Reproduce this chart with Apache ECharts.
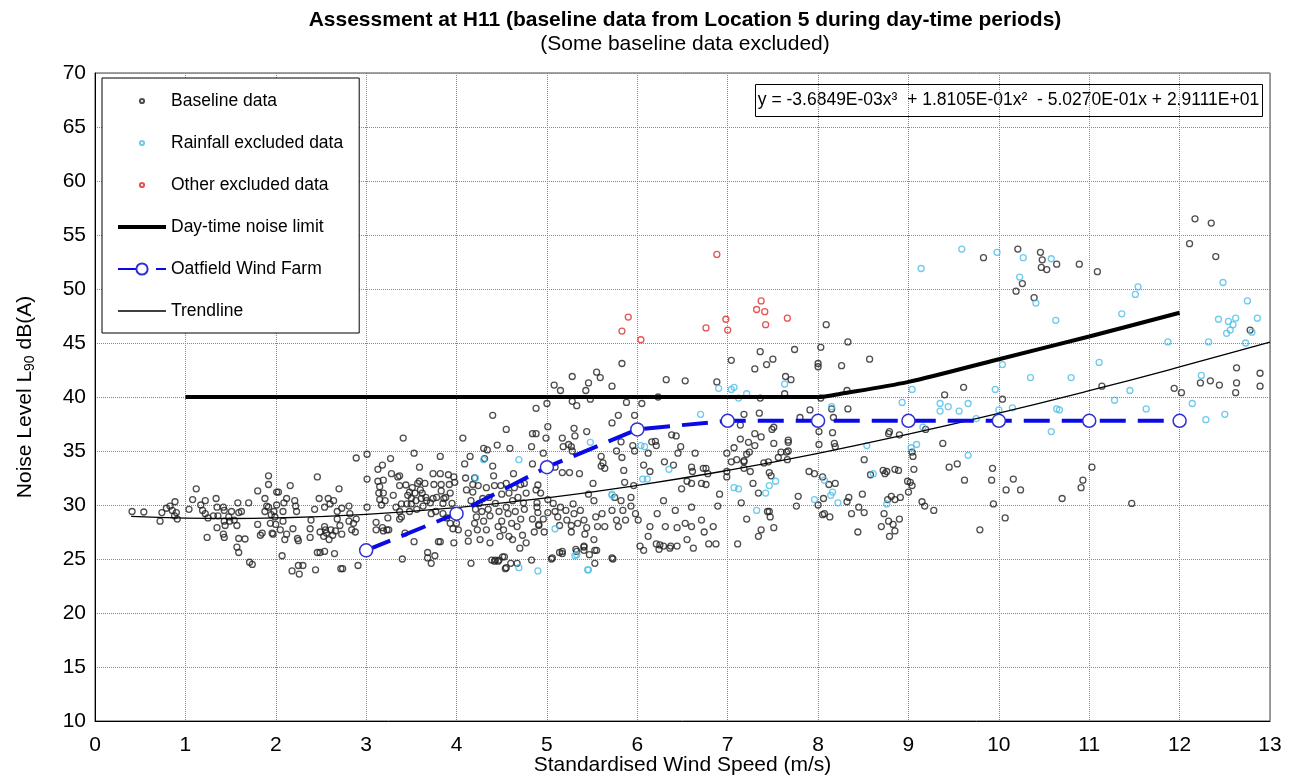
<!DOCTYPE html>
<html>
<head>
<meta charset="utf-8">
<script src="https://cdn.jsdelivr.net/npm/echarts@6/dist/echarts.min.js"></script>
<style>
  html, body { margin: 0; padding: 0; background: #fff; }
  #chart { width: 1295px; height: 780px; }
</style>
</head>
<body>
<div id="chart"></div>
<script>
// baseline points [wind speed m/s, LA90 dB]
const baselineData = [
  [0.41,29.4],[0.54,29.35],[0.72,28.5],[0.74,29.3],[0.79,29.7],[0.83,29.9],[0.885,30.3],[0.855,29.5],[0.9,29.3],[0.88,29.0],[0.91,28.7],
  [1.04,29.6],[1.08,30.5],[1.12,31.5],[1.17,30.0],[1.19,29.5],[1.22,30.4],[1.22,29.2],[1.25,28.8],[1.24,27.0],[1.31,29.0],[1.34,30.6],
  [1.35,29.8],[1.35,27.9],[1.36,29.0],[1.42,29.8],[1.43,29.5],[1.43,28.5],[1.42,27.3],[1.43,27.0],[1.44,28.1],[1.48,28.9],[1.49,28.5],
  [1.51,29.4],[1.54,28.6],[1.57,28.1],[1.58,30.2],[1.59,29.3],[1.57,26.1],[1.59,25.6],[1.59,26.9],[1.62,29.4],[1.66,26.85],[1.70,30.2],
  [1.71,24.7],[1.74,24.5],[1.80,31.3],[1.80,28.2],[1.83,27.2],[1.85,27.4],[1.88,30.6],[1.88,29.4],[1.90,29.9],[1.92,32.7],[1.92,31.9],
  [1.92,29.8],[1.94,28.3],[1.95,29.1],[1.96,27.4],[1.97,27.3],[1.98,29.4],[1.99,28.9],[2.01,31.2],[2.01,30.0],[2.0,28.2],[2.03,31.2],
  [2.05,27.7],[2.07,25.3],[2.08,29.4],[2.08,28.5],[2.09,30.2],[2.10,26.8],[2.12,30.6],[2.12,27.3],[2.16,31.8],[2.18,23.9],[2.19,27.8],
  [2.21,30.4],[2.22,29.9],[2.23,29.4],[2.24,26.9],[2.25,26.7],[2.26,23.6],[2.25,24.4],[2.30,24.4],[2.38,27.8],[2.38,27.0],[2.39,28.6],
  [2.43,29.6],[2.44,24.0],[2.46,32.6],[2.46,25.6],[2.48,30.6],[2.49,25.6],[2.49,27.5],[2.53,27.1],[2.54,25.7],[2.54,29.8],[2.54,28.0],
  [2.55,27.7],[2.56,27.4],[2.58,30.6],[2.59,26.8],[2.60,30.1],[2.61,27.7],[2.64,30.4],[2.63,27.2],[2.65,25.5],[2.66,27.6],[2.68,28.7],
  [2.68,29.4],[2.70,31.5],[2.71,28.1],[2.72,24.1],[2.73,29.7],[2.73,27.3],
  [2.89,34.35],[3.01,34.7],[2.81,29.9],[2.82,29.2],[2.81,28.5],[2.84,27.7],[2.89,28.7],[2.88,27.5],[2.86,28.3],[2.91,24.4],[2.74,24.1],
  [3.01,32.4],[3.01,29.8],[3.11,28.4],[3.11,27.7],[3.13,33.3],[3.13,32.2],[3.15,31.7],[3.14,31.1],[3.15,30.5],[3.17,30.0],[3.18,33.7],
  [3.19,32.3],[3.19,31.1],[3.21,30.4],[3.18,27.9],[3.19,27.6],[3.23,27.7],[3.25,27.7],[3.24,28.8],[3.27,34.3],[3.28,32.9],[3.30,30.9],
  [3.33,29.8],[3.35,32.6],[3.37,32.7],[3.37,31.8],[3.39,30.1],[3.37,29.4],[3.39,28.9],[3.37,28.7],[3.41,36.2],[3.40,25.0],[3.43,27.4],
  [3.44,31.85],[3.45,30.1],[3.46,30.9],[3.48,31.2],[3.48,29.4],[3.50,30.1],[3.50,30.6],[3.51,31.6],[3.53,34.8],[3.53,26.6],[3.54,31.1],
  [3.55,30.4],[3.56,29.6],[3.57,32.0],[3.59,33.5],[3.59,32.2],[3.60,31.4],[3.61,30.6],[3.62,31.1],[3.63,29.9],[3.65,32.0],[3.66,30.7],
  [3.67,30.4],[3.68,25.6],[3.68,25.1],[3.71,30.2],[3.72,29.2],[3.72,24.6],[3.74,32.9],[3.74,30.6],[3.75,31.9],[3.76,25.3],[3.77,29.4],
  [3.78,30.7],[3.80,26.6],[3.82,32.9],[3.82,34.5],[3.83,31.9],[3.83,31.3],[3.85,30.15],[3.85,29.2],[3.86,30.6],[3.88,30.7],[3.89,28.8],
  [3.91,32.8],[3.92,31.9],[3.93,31.1],[3.93,28.3],[3.95,30.15],[3.96,27.8],[3.97,32.6],[3.98,32.1],[3.97,26.5],[4.00,28.3],[4.02,27.7],
  [4.07,36.2],[4.09,33.8],[4.10,32.5],[4.11,31.4],[4.13,27.4],[4.13,26.65],[4.15,34.5],[4.16,30.4],[4.16,24.6],[4.18,31.9],[4.18,31.2],
  [4.20,32.5],[4.20,28.3],[4.21,29.6],[4.22,28.9],[4.23,27.7],[4.24,31.8],[4.25,30.15],[4.26,26.8],[4.28,29.4],[4.29,30.6],[4.30,28.5],
  [4.30,35.25],[4.31,34.3],[4.33,27.7],[4.33,31.6],[4.34,35.1],[4.35,29.6],[4.36,30.7],[4.37,29.0],[4.37,26.5],[4.39,24.9],[4.40,33.6],
  [4.40,38.3],[4.41,32.7],[4.42,31.8],[4.43,30.15],[4.43,24.9],[4.45,35.55],[4.46,28.0],[4.47,29.4],[4.47,24.9],[4.48,27.1],[4.49,31.8],
  [4.50,31.0],[4.50,28.5],[4.51,25.2],[4.52,27.7],[4.55,37.0],[4.55,32.0],[4.55,29.8],[4.55,24.2],[4.57,29.2],[4.58,31.1],[4.58,27.1],
  [4.59,35.25],[4.60,24.6],[4.61,28.3],[4.62,30.4],[4.62,26.8],[4.63,32.9],[4.64,31.6],[4.65,29.4],[4.67,28.0],[4.67,24.6],[4.68,30.7],
  [4.70,26.0],[4.71,31.9],[4.71,28.7],[4.73,27.2],[4.74,30.2],[4.75,32.0],[4.75,29.6],[4.77,26.5],[4.77,31.1],[4.83,35.4],[4.84,36.6],
  [4.84,33.8],[4.84,28.7],[4.86,27.5],[4.88,38.95],[4.88,31.4],[4.89,30.2],[4.90,29.3],[4.91,28.2],
  [4.42,24.8],[4.46,24.8],[4.53,25.2],[4.54,24.1],[4.83,24.9],[5.05,25.0],[5.14,25.6],[5.17,25.5],[5.32,25.9],[5.41,26.1],[5.55,25.8],
  [5.73,25.0],[6.07,25.8],[6.25,26.3],[6.37,26.2],[6.44,26.2],[3.82,26.6],
  [5.83,43.1],[5.55,42.3],[5.59,41.8],[5.28,41.9],[5.08,41.1],[5.15,40.6],[5.43,40.6],[5.46,41.3],[5.72,41.0],[5.48,39.8],[5.28,39.6],
  [5.33,39.2],[5.0,39.4],[5.88,39.5],[6.05,39.4],[6.23,40.0],[6.32,41.6],[6.53,41.5],[6.88,41.4],[7.04,43.4],[5.79,38.3],[5.72,37.6],
  [5.97,38.3],[5.01,37.25],[5.30,37.1],[5.31,36.4],[5.44,36.8],[4.99,36.2],[5.17,36.2],[4.88,36.6],[5.24,35.6],[5.27,35.4],[5.28,35.0],
  [5.18,35.4],[4.96,34.8],[5.09,33.5],[5.17,33.0],[5.25,33.0],[5.36,32.9],[5.60,34.5],[5.62,33.9],[5.60,33.6],[5.64,33.4],[5.77,35.0],
  [5.82,35.85],[5.83,34.4],[5.85,33.2],[5.95,35.5],[5.97,35.0],[6.07,33.7],[6.14,33.1],[6.16,35.85],[6.20,35.9],[6.21,35.5],[6.12,34.8],
  [6.30,34.0],[6.38,36.5],[6.43,36.4],[6.45,34.8],[6.48,35.4],[6.40,33.7],[6.60,33.5],[6.61,33.1],[6.64,34.8],[6.73,33.4],[6.76,33.4],
  [6.78,32.9],[6.60,32.0],[6.55,32.2],[6.71,32.0],[6.76,31.9],[6.99,34.8],[6.99,33.1],[6.99,32.6],[7.04,34.0],
  [4.90,31.85],[4.93,31.1],[4.89,29.8],[5.01,30.5],[5.01,29.3],[4.96,28.7],[4.91,28.1],[4.97,27.5],[5.07,30.15],[5.09,29.4],[5.12,28.9],
  [5.15,29.8],[5.14,28.1],[5.21,29.5],[5.22,28.6],[5.27,28.1],[5.29,30.1],[5.30,29.2],[5.27,27.5],[5.34,28.3],[5.37,29.5],[5.41,28.6],
  [5.42,27.3],[5.44,27.9],[5.46,31.0],[5.51,32.0],[5.52,30.4],[5.54,28.9],[5.56,28.0],[5.52,26.8],[5.41,26.2],[5.41,25.8],[5.53,25.8],
  [5.47,25.4],[5.53,24.6],[5.33,25.7],[5.17,25.7],[5.06,25.1],[5.72,25.1],[5.61,29.2],[5.64,28.0],[5.72,29.5],[5.75,30.7],[5.77,28.6],
  [5.79,28.0],[5.82,30.4],[5.84,29.5],[5.86,32.1],[5.87,28.6],[5.93,30.7],[5.93,29.9],[5.96,31.8],[5.98,29.2],[6.01,28.6],[6.03,26.2],
  [6.12,27.1],[6.14,28.0],[6.22,29.2],[6.21,26.4],[6.24,25.9],[6.29,30.4],[6.29,26.2],[6.31,28.0],[6.36,26.0],[6.42,29.5],[6.44,27.9],
  [6.49,31.5],[6.53,28.3],[6.55,26.8],[6.60,28.0],[6.60,29.8],[6.62,26.0],[6.71,28.6],[6.74,27.5],[6.79,26.4],[6.84,28.0],[6.87,26.4],
  [6.89,29.9],[6.91,31.0],
  [8.09,46.7],[8.33,45.1],[8.03,44.6],[7.74,44.4],[7.36,44.2],[8.57,43.5],[7.50,43.5],[7.43,43.0],[8.0,43.1],[8.0,42.8],[8.26,42.9],
  [7.30,42.6],[7.64,41.9],[7.70,41.6],[7.63,40.3],[7.36,39.9],[8.03,39.9],[8.32,40.6],[8.15,38.9],[8.33,38.9],[7.35,38.5],[7.18,38.4],
  [7.91,38.8],[7.80,38.1],[8.17,38.1],[7.14,37.4],[7.51,37.2],[7.49,37.0],[8.01,36.8],[8.16,36.7],[7.30,36.6],[7.37,36.3],[7.14,36.1],
  [7.23,35.8],[7.51,35.7],[7.67,36.0],[7.67,35.8],[7.30,35.5],[8.01,35.6],[8.18,35.7],[8.19,35.4],[7.07,35.3],[7.24,34.9],[7.21,34.7],
  [7.59,34.9],[7.65,34.9],[7.67,35.0],[7.10,34.2],[7.18,34.1],[7.18,34.0],[7.56,34.4],[7.66,34.2],[7.40,33.9],[7.45,34.0],[8.51,34.2],
  [7.18,33.4],[7.25,33.1],[7.46,33.0],[7.48,32.7],[7.90,33.1],[7.96,32.9],[8.05,32.6],[8.12,31.9],[8.19,32.0],[8.58,32.8],[8.74,32.9],
  [8.85,33.3],[8.89,33.2],[8.79,36.8],[8.90,36.5],[7.28,32.0],[7.34,31.1],[7.15,30.2],[7.46,29.4],[7.44,29.4],[7.47,28.9],[7.21,28.7],
  [7.78,30.8],[7.76,29.9],[8.0,30.0],[8.06,30.6],[8.05,29.1],[8.07,29.2],[8.13,28.9],[8.34,30.7],[8.32,30.3],[8.37,29.2],[8.45,29.8],
  [8.49,31.0],[8.51,29.3],[8.44,27.5],[8.73,29.2],[8.78,28.5],[8.90,28.7],[8.85,27.6],[8.85,30.5],[8.91,30.7],[7.51,27.9],[7.37,27.7],
  [7.34,27.1],[7.11,26.4],
  [12.17,56.5],[12.35,56.1],[12.11,54.2],[12.40,53.0],[9.83,52.9],[10.21,53.7],[10.46,53.4],[10.48,52.7],[10.47,52.0],[10.53,51.8],
  [10.64,52.3],[10.89,52.3],[11.09,51.6],[10.26,50.5],[10.19,49.8],[10.39,49.2],[9.61,40.9],[9.40,40.2],[10.04,39.8],[11.14,41.0],
  [11.94,40.8],[12.02,40.4],[12.23,41.3],[12.34,41.5],[12.44,41.1],[12.63,42.7],[12.63,41.3],[12.62,40.4],[12.89,42.2],[12.89,41.0],
  [9.19,37.0],[8.78,36.6],[9.38,35.7],[9.04,34.9],[9.05,34.5],[9.06,33.3],[9.45,33.5],[9.54,33.8],[9.93,33.4],[9.62,32.3],[9.92,32.3],
  [10.16,32.4],[10.08,31.4],[10.24,31.4],[8.72,33.2],[8.76,33.1],[8.99,32.2],[9.02,32.1],[9.04,31.8],[9.0,31.2],[8.81,30.8],[8.77,30.5],
  [9.15,30.3],[9.18,29.9],[9.28,29.5],[9.94,30.1],[10.07,28.8],[10.70,30.6],[10.93,32.3],[10.91,31.6],[11.03,33.5],[11.47,30.15],
  [8.70,28.0],[8.83,28.2],[8.79,27.1],[9.79,27.7],[12.78,46.2]
];
const rainfallData = [
  [4.30,34.2],[4.21,32.5],[4.69,34.2],[4.69,24.2],[4.90,23.9],[5.09,27.8],[5.31,25.3],[5.45,24.0],[5.48,35.8],[5.72,30.9],[6.08,35.4],
  [6.11,32.4],[6.35,33.3],[6.04,35.5],[6.06,32.4],[6.70,38.4],[6.90,40.8],[7.04,40.7],[7.07,31.6],[5.72,31.0],[5.33,25.4],[5.46,24.0],
  [7.07,40.9],[7.12,39.9],[7.21,40.3],[7.63,41.2],[8.15,39.1],[8.93,39.5],[8.54,35.5],[8.61,32.9],[7.53,32.2],[7.46,31.8],[7.42,31.1],
  [7.12,31.5],[7.32,29.5],[7.96,30.5],[8.07,32.3],[8.16,31.2],[8.14,30.9],[8.22,30.2],[8.76,30.1],
  [9.59,53.7],[9.14,51.9],[9.98,53.4],[10.27,52.9],[10.58,52.8],[10.23,51.1],[10.41,48.7],[10.63,47.1],[11.54,50.2],[11.51,49.5],
  [11.36,47.7],[11.87,45.1],[12.48,50.6],[12.75,48.9],[12.43,47.2],[12.54,47.0],[12.62,47.3],[12.86,47.3],[12.59,46.7],[12.56,46.2],
  [12.52,45.9],[12.80,46.0],[12.73,45.0],[12.32,45.1],[10.04,43.0],[10.35,41.8],[10.80,41.8],[11.11,43.2],[12.24,42.0],[12.14,39.4],
  [12.50,38.4],[12.29,37.9],[11.63,38.9],[11.45,40.6],[11.28,39.7],[10.58,36.8],[10.64,38.9],[10.67,38.8],[9.96,40.7],[10.0,38.8],
  [10.15,39.0],[9.75,38.0],[9.66,39.4],[9.56,38.7],[9.44,39.1],[9.35,39.4],[9.35,38.7],[9.04,40.7],[9.16,37.2],[9.09,35.6],[9.03,35.3],
  [9.66,34.6]
];
const otherData = [
  [5.83,46.1],[5.90,47.4],[6.04,45.3],[6.76,46.4],[6.88,53.2],[6.98,47.2],[7.0,46.2],[7.32,48.1],[7.37,48.9],[7.41,47.9],[7.42,46.7],[7.66,47.3]
];
const limitSpeed = [1, 2, 3, 4, 5, 6, 7, 8, 8.25, 9, 10, 11, 12];
const limitLevel = [40, 40, 40, 40, 40, 40, 40, 40, 40.3, 41.4, 43.5, 45.6, 47.8];
const farmSpeed = [3, 4, 5, 6, 7, 8, 9, 10, 11, 12];
const farmLevel = [25.8, 29.2, 33.5, 37.0, 37.8, 37.8, 37.8, 37.8, 37.8, 37.8];
// trendline read at these speeds (matches the printed cubic)
const trendSpeed = [0.4, 1, 1.5, 2, 3, 4, 5, 6, 7, 8, 9, 10, 11, 12, 13];
const trendLevel = [28.94, 28.79, 28.75, 28.80, 29.13, 29.76, 30.66, 31.82, 33.20, 34.79, 36.57, 38.50, 40.58, 42.78, 45.08];
const equationText = 'y = -3.6849E-03x\u00b3  + 1.8105E-01x\u00b2  - 5.0270E-01x + 2.9111E+01';

const zip = (xs, ys) => xs.map((x, i) => [x, ys[i]]);
const font = '"Liberation Sans", Arial, sans-serif';
// legend icons: small ring centred in a bigger empty box, and plain bars for the lines
const dotIcon = 'path://M0,0M20,20M13,10A3,3,0,1,1,7,10A3,3,0,1,1,13,10Z';
const thickIcon = 'path://M0,0L48,0L48,4L0,4Z';
const thinIcon = 'path://M0,0L48,0L48,1.3L0,1.3Z';

const chart = echarts.init(document.getElementById('chart'), null, { renderer: 'canvas' });

const option = {
  animation: false,
  backgroundColor: '#fff',
  title: {
    text: 'Assessment at H11 (baseline data from Location 5 during day-time periods)',
    subtext: '(Some baseline data excluded)',
    left: 680,
    top: 5,
    textAlign: 'center',
    itemGap: 3,
    textStyle: { fontFamily: font, fontSize: 21, fontWeight: 'bold', color: '#000' },
    subtextStyle: { fontFamily: font, fontSize: 21, color: '#000' }
  },
  grid: { left: 95, right: 25, top: 73, bottom: 59, show: true, borderColor: '#444', borderWidth: 1, outerBoundsMode: 'none' },
  legend: {
    orient: 'vertical',
    left: 102,
    top: 78,
    itemWidth: 48,
    itemHeight: 14,
    itemGap: 24,
    padding: [14, 16, 13, 15],
    borderColor: '#000',
    borderWidth: 1,
    backgroundColor: '#fff',
    textStyle: { fontFamily: font, fontSize: 17.5, color: '#000' },
    data: [
      { name: 'Baseline data', icon: dotIcon },
      { name: 'Rainfall excluded data', icon: dotIcon },
      { name: 'Other excluded data', icon: dotIcon },
      { name: 'Day-time noise limit', icon: thickIcon },
      'Oatfield Wind Farm',
      { name: 'Trendline', icon: thinIcon }
    ]
  },
  xAxis: {
    type: 'value',
    min: 0, max: 13, interval: 1,
    name: 'Standardised Wind Speed (m/s)',
    nameLocation: 'middle',
    nameGap: 34,
    nameMoveOverlap: false,
    nameTextStyle: { fontFamily: font, fontSize: 21, color: '#000' },
    axisLine: { lineStyle: { color: '#000', width: 1 } },
    axisTick: { show: false },
    axisLabel: { fontFamily: font, fontSize: 21, color: '#000', margin: 14 },
    splitLine: { show: true, lineStyle: { color: '#888', type: 'dotted' } }
  },
  yAxis: {
    type: 'value',
    min: 10, max: 70, interval: 5,
    name: '{a|Noise Level L}{s|90}{a| dB(A)}',
    nameLocation: 'middle',
    nameGap: 58,
    nameRotate: 90,
    nameTextStyle: {
      rich: {
        a: { fontFamily: font, fontSize: 21, color: '#000', lineHeight: 24 },
        s: { fontFamily: font, fontSize: 14, color: '#000', lineHeight: 24, verticalAlign: 'bottom', padding: [7, 0, 0, 0] }
      }
    },
    axisLine: { show: true, lineStyle: { color: '#000', width: 1 } },
    axisTick: { show: false },
    axisLabel: { fontFamily: font, fontSize: 21, color: '#000', margin: 9 },
    splitLine: { show: true, lineStyle: { color: '#888', type: 'dotted' } }
  },
  graphic: [
    {
      type: 'group',
      left: 755,
      top: 84,
      z: 100,
      children: [
        { type: 'rect', shape: { x: 0, y: 0, width: 507, height: 32 }, style: { fill: '#fff', stroke: '#000', lineWidth: 1 } },
        { type: 'text', x: 253, y: 16, style: { text: equationText, font: '17.5px ' + font, fill: '#000', align: 'center', verticalAlign: 'middle' } }
      ]
    }
  ],
  series: [
    {
      name: 'Baseline data',
      type: 'scatter',
      data: baselineData,
      symbol: 'circle',
      symbolSize: 6,
      itemStyle: { color: 'rgba(255,255,255,0)', borderColor: '#222', borderWidth: 1.3 },
      z: 2
    },
    {
      name: 'Rainfall excluded data',
      type: 'scatter',
      data: rainfallData,
      symbol: 'circle',
      symbolSize: 6,
      itemStyle: { color: 'rgba(255,255,255,0)', borderColor: '#4cbde6', borderWidth: 1.3 },
      z: 2
    },
    {
      name: 'Other excluded data',
      type: 'scatter',
      data: otherData,
      symbol: 'circle',
      symbolSize: 6,
      itemStyle: { color: 'rgba(255,255,255,0)', borderColor: '#dd2a2a', borderWidth: 1.3 },
      z: 2
    },
    {
      name: 'Day-time noise limit',
      type: 'line',
      data: zip(limitSpeed, limitLevel),
      smooth: 0.3,
      symbol: 'none',
      lineStyle: { color: '#000', width: 4 },
      itemStyle: { color: '#000' },
      z: 4
    },
    {
      name: 'Oatfield Wind Farm',
      type: 'line',
      data: zip(farmSpeed, farmLevel),
      symbol: 'circle',
      symbolSize: 13,
      lineStyle: { color: '#0a0ae6', width: 4, type: [26, 12] },
      itemStyle: { color: '#fff', borderColor: '#3030d0', borderWidth: 1.5 },
      z: 5
    },
    {
      name: 'Trendline',
      type: 'line',
      data: zip(trendSpeed, trendLevel),
      smooth: true,
      symbol: 'none',
      lineStyle: { color: '#000', width: 1.3 },
      itemStyle: { color: '#000' },
      z: 3
    }
  ]
};

chart.setOption(option);
</script>
</body>
</html>
